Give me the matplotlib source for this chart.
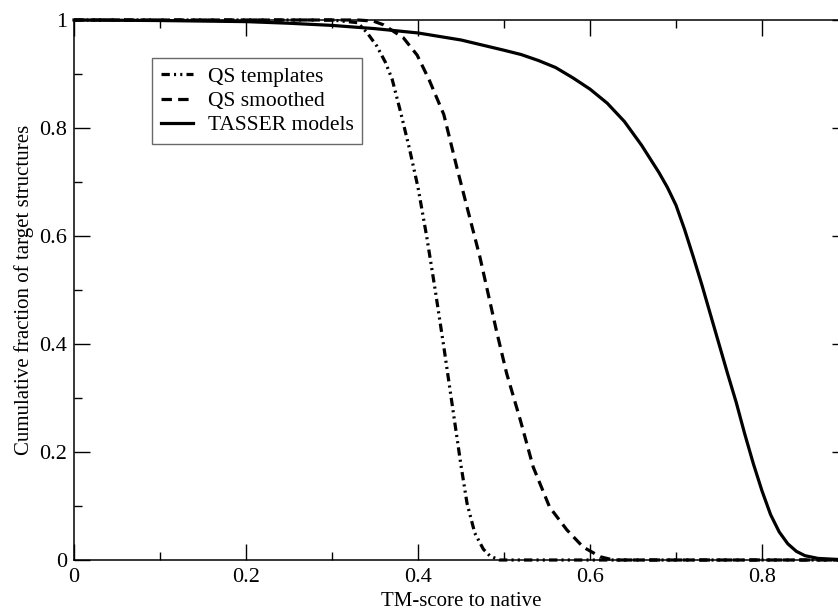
import matplotlib
matplotlib.use("Agg")
import matplotlib.pyplot as plt
from matplotlib.ticker import MultipleLocator, FuncFormatter

plt.rcParams['font.family'] = ['Liberation Serif', 'DejaVu Serif']
plt.rcParams['lines.scale_dashes'] = False

# Data
tasser_x = [0.0, 0.10, 0.20, 0.25, 0.30, 0.35, 0.40, 0.45, 0.50, 0.52, 0.54, 0.56,
            0.58, 0.60, 0.62, 0.64, 0.66, 0.68, 0.69, 0.70, 0.71, 0.72, 0.73, 0.74,
            0.75, 0.76, 0.77, 0.78, 0.79, 0.80, 0.81, 0.82, 0.83, 0.84, 0.85, 0.865, 0.90]
tasser_y = [1.0, 0.999, 0.997, 0.994, 0.990, 0.984, 0.976, 0.963, 0.944, 0.936, 0.925, 0.912,
            0.893, 0.872, 0.846, 0.812, 0.768, 0.718, 0.690, 0.657, 0.612, 0.562, 0.510, 0.455,
            0.400, 0.345, 0.292, 0.233, 0.178, 0.128, 0.084, 0.052, 0.030, 0.016, 0.008, 0.003, 0.0]

templ_x = [0.0, 0.30, 0.330, 0.341, 0.352, 0.362, 0.370, 0.380, 0.390, 0.400, 0.410,
           0.420, 0.430, 0.440, 0.450, 0.457, 0.466, 0.476, 0.484, 0.495, 0.90]
templ_y = [1.0, 1.0, 0.995, 0.976, 0.952, 0.922, 0.890, 0.828, 0.762, 0.690, 0.600,
           0.500, 0.395, 0.285, 0.175, 0.105, 0.050, 0.020, 0.007, 0.0, 0.0]

smooth_x = [0.0, 0.33, 0.348, 0.360, 0.383, 0.399, 0.413, 0.430, 0.445, 0.460, 0.472,
            0.481, 0.491, 0.503, 0.519, 0.534, 0.553, 0.573, 0.592, 0.612, 0.627, 0.90]
smooth_y = [1.0, 1.0, 0.998, 0.991, 0.967, 0.935, 0.889, 0.825, 0.728, 0.635, 0.561,
            0.497, 0.426, 0.346, 0.259, 0.172, 0.098, 0.056, 0.024, 0.006, 0.0, 0.0]

labels = ["QS templates", "QS smoothed", "TASSER models"]

fig = plt.figure(figsize=(8.38, 6.11), dpi=100)
ax = fig.add_axes([74/838, 51/611, 774/838, 540/611])

lw = 2.3
ax.plot(templ_x, templ_y, color='black', lw=lw, dashes=(6, 3, 1.5, 3, 1.5, 3),
        label=labels[0], clip_on=False)
ax.plot(smooth_x, smooth_y, color='black', lw=lw, dashes=(7.5, 4.5),
        label=labels[1], clip_on=False)
ax.plot(tasser_x, tasser_y, color='black', lw=lw, label=labels[2], clip_on=False)

ax.set_xlim(0, 0.9)
ax.set_ylim(0, 1)
for sp in ax.spines.values():
    sp.set_linewidth(1.1)

ax.xaxis.set_major_locator(MultipleLocator(0.2))
ax.xaxis.set_minor_locator(MultipleLocator(0.1))
ax.yaxis.set_major_locator(MultipleLocator(0.2))
ax.yaxis.set_minor_locator(MultipleLocator(0.1))
fmt = FuncFormatter(lambda v, p: ('%g' % round(v, 3)))
ax.xaxis.set_major_formatter(fmt)
ax.yaxis.set_major_formatter(fmt)
ax.tick_params(which='both', direction='in', top=True, right=True, labelsize=16, width=1.0)
ax.tick_params(which='major', length=11.5)
ax.tick_params(axis='x', which='major', pad=6)
ax.tick_params(axis='y', which='major', pad=5)
ax.tick_params(which='minor', length=6)

ax.set_xlabel("TM-score to native", fontsize=15, labelpad=3)
ax.set_ylabel("Cumulative fraction of target structures", fontsize=15, labelpad=4)

leg = ax.legend(loc='upper left', bbox_to_anchor=(78/774, (560-58)/540), borderaxespad=0,
                fontsize=15.5, frameon=True, fancybox=False, handlelength=1.5,
                handletextpad=0.7, labelspacing=0.2, borderpad=0.4)
leg.get_frame().set_edgecolor('#444444')
leg.get_frame().set_linewidth(1.0)

fig.savefig("out.png", dpi=100)
